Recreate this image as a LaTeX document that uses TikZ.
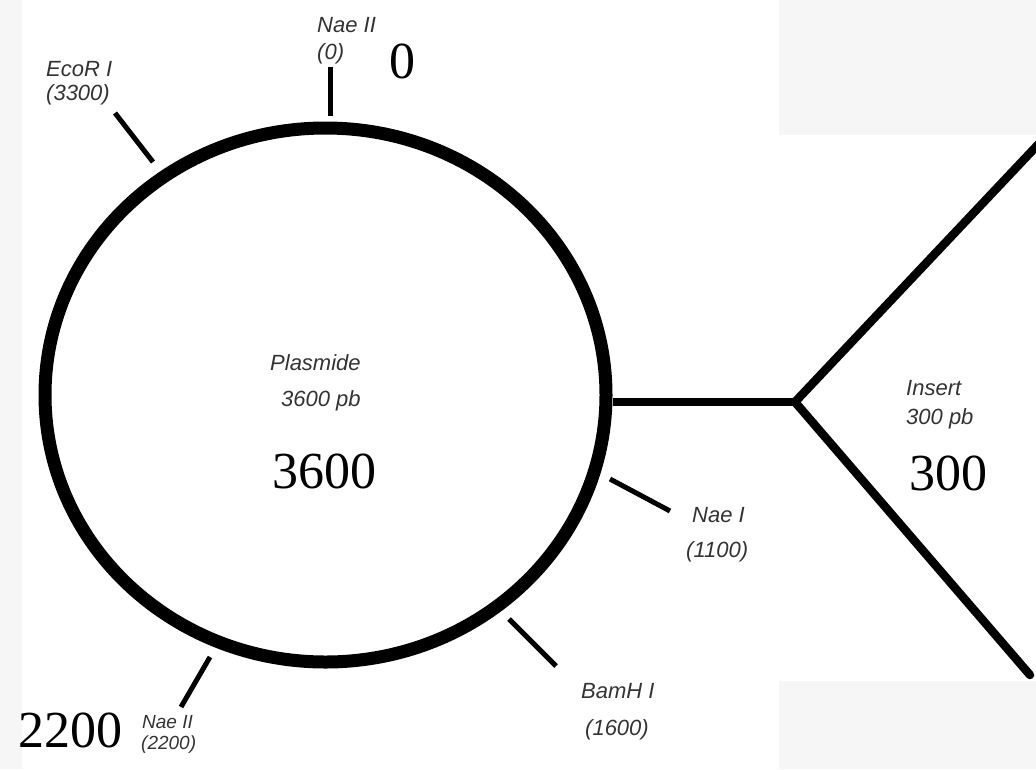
\documentclass[tikz,border=0pt]{standalone}
\usepackage{fontspec}
\setmainfont{Liberation Serif}
\newfontfamily\labfont{Liberation Sans}
\usetikzlibrary{shapes.geometric}
\begin{document}
\begin{tikzpicture}[x=1pt,y=-1pt,
  lab/.style={font=\labfont\itshape\fontsize{22}{26}\selectfont, text=black!80, inner sep=0pt, anchor=base west},
  smalllab/.style={lab, font=\labfont\itshape\fontsize{19}{22}\selectfont},
  big/.style={font=\fontsize{52}{60}\selectfont, inner sep=0pt, anchor=base},
  cuttick/.style={line width=5pt},
  arm/.style={line width=8.5pt},
  texture/.style={fill=black!3.5, draw=none}]
\useasboundingbox (0,0) rectangle (1036,769);
% textured background patches
\fill[texture] (0,0) rectangle (22,769);
\fill[texture] (779,0) rectangle (1036,135);
\fill[texture] (779,681) rectangle (1036,769);

% plasmid
\node[ellipse, draw, line width=13pt, minimum width=561pt, minimum height=534pt, inner sep=0pt] (plasmid) at (325.5,395) {};

% insert connector
\coordinate (fork) at (795,402);
\coordinate (upend) at (1048,134);
\coordinate (lowend) at (1030,675);
\draw[arm] (plasmid.east |- fork) -- (fork);
\draw[arm, line cap=round] (upend) -- (fork) -- (lowend);

% restriction site ticks
\coordinate (s0a) at (330,67);   \coordinate (s0b) at (330,116);
\coordinate (s3a) at (115,113);  \coordinate (s3b) at (153,162);
\coordinate (s11a) at (610,479); \coordinate (s11b) at (670,511);
\coordinate (s16a) at (509,619); \coordinate (s16b) at (556,666);
\coordinate (s22a) at (210,657); \coordinate (s22b) at (181,707);
\draw[cuttick] (s0a) -- (s0b);
\draw[cuttick] (s3a) -- (s3b);
\draw[cuttick] (s11a) -- (s11b);
\draw[cuttick] (s16a) -- (s16b);
\draw[cuttick] (s22a) -- (s22b);

% labels
\node[lab] (l0a) at (317,32) {Nae II};
\node[lab] (l0b) at (317,59) {(0)};
\node[lab] (l3a) at (46,76) {EcoR I};
\node[lab] (l3b) at (46,100) {(3300)};
\node[lab] (l11a) at (692,522) {Nae I};
\node[lab] (l11b) at (686,557) {(1100)};
\node[lab] (l16a) at (581,698) {BamH I};
\node[lab] (l16b) at (585,735) {(1600)};
\node[smalllab] (l22a) at (142,728) {Nae II};
\node[smalllab] (l22b) at (141,749) {(2200)};
\node[lab] (pl) at (270,370) {Plasmide};
\node[lab] (plb) at (281,406) {3600 pb};
\node[lab] (ins) at (906,395) {Insert};
\node[lab] (insb) at (906,424) {300 pb};

% big numbers
\node[big] (n0) at (402,78) {0};
\node[big] (n3600) at (324,488) {3600};
\node[big] (n300) at (948,490) {300};
\node[big] (n2200) at (70,747) {2200};
\end{tikzpicture}
\end{document}
